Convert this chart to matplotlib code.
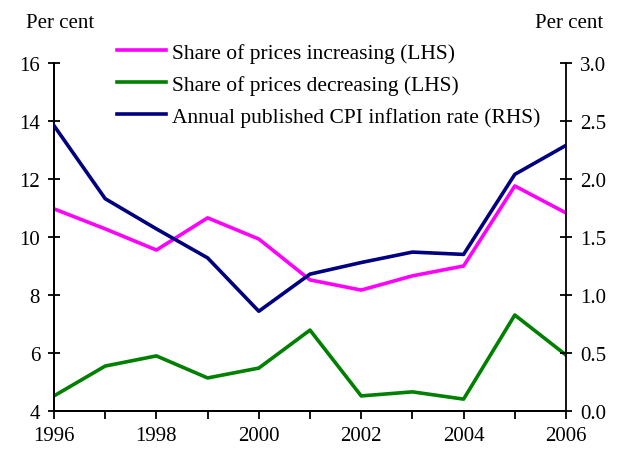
import numpy as np
import matplotlib
matplotlib.use("Agg")
from matplotlib import pyplot as plt

plt.rcParams['font.family'] = ['Liberation Serif', 'DejaVu Serif']

years = [1996, 1997, 1998, 1999, 2000, 2001, 2002, 2003, 2004, 2005, 2006]
shareUp = [10.97, 10.28, 9.55, 10.66, 9.93, 8.52, 8.17, 8.66, 9.0, 11.76, 10.83]
shareDown = [4.52, 5.55, 5.9, 5.14, 5.48, 6.79, 4.52, 4.66, 4.41, 7.31, 5.93]
cpi = [2.46, 1.83, 1.57, 1.32, 0.86, 1.18, 1.28, 1.37, 1.35, 2.04, 2.29]

labels = ["Share of prices increasing (LHS)",
          "Share of prices decreasing (LHS)",
          "Annual published CPI inflation rate (RHS)"]

fig = plt.figure(figsize=(6.17, 4.52), dpi=100)
ax = fig.add_axes([54/617, 40/452, 512/617, 348/452])
ax2 = ax.twinx()

l1, = ax.plot(years, shareUp, color="#ff00ff", lw=2.6, zorder=3)
l2, = ax.plot(years, shareDown, color="#008000", lw=2.6, zorder=3)
l3, = ax2.plot(years, cpi, color="#000080", lw=2.6, zorder=3)

ax.set_xlim(1996, 2006)
ax.set_ylim(4, 16)
ax2.set_ylim(0, 3.0)
ax.set_yticks(np.arange(4, 17, 2))
ax2.set_yticks(np.arange(0, 3.01, 0.5))
ax2.set_yticklabels(["%.1f" % v for v in np.arange(0, 3.01, 0.5)])
ax.set_xticks(np.arange(1996, 2007, 2))
ax.set_xticks(np.arange(1996, 2007, 1), minor=True)

for a in (ax, ax2):
    a.spines['top'].set_visible(False)
    for s in a.spines.values():
        s.set_linewidth(1.3)
ax.spines['right'].set_visible(False)

ax.tick_params(axis='y', direction='inout', length=8, width=1.3, labelsize=15, pad=6)
ax2.tick_params(axis='y', direction='inout', length=8, width=1.3, labelsize=15, pad=6)
ax.tick_params(axis='x', which='both', direction='out', length=6, width=1.3, labelsize=15, pad=5)
ax.tick_params(axis='x', which='minor', labelbottom=False)

fig.text(26/617, 1 - 24/452, "Per cent", fontsize=15, va='center', ha='left')
fig.text(603/617, 1 - 24/452, "Per cent", fontsize=15, va='center', ha='right')

fig.legend([l1, l2, l3], labels, loc='upper left', bbox_to_anchor=(108/617, 1 - 35/452),
           frameon=False, fontsize=15.5, handlelength=2.3, labelspacing=0.55,
           handletextpad=0.25, borderaxespad=0)

fig.savefig("out.png", dpi=100)
